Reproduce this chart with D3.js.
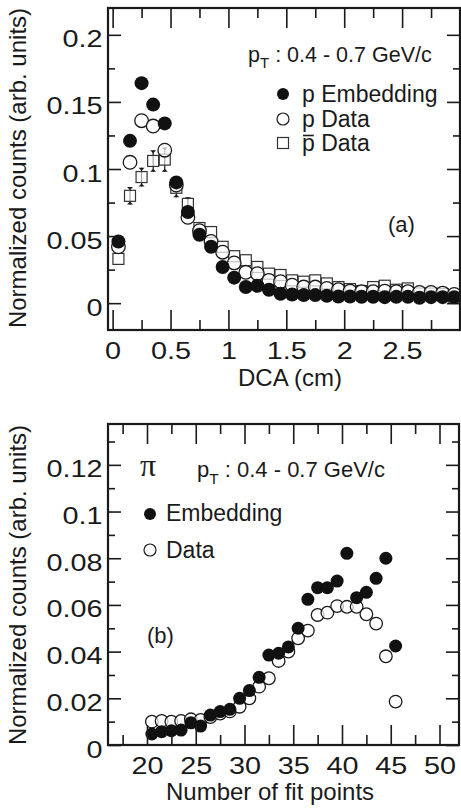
<!DOCTYPE html>
<html><head><meta charset="utf-8">
<script src="https://cdn.jsdelivr.net/npm/d3@7/dist/d3.min.js"></script>
<style>
body{margin:0;background:#fff}
text{font-family:"Liberation Sans",Arial,Helvetica,sans-serif;fill:#1a1a1a}
</style>
</head><body>
<svg id="c" width="461" height="810"></svg>
<script>
// ---------- Panel (a): DCA distributions ----------
const dcaCenters = [0.05,0.15,0.25,0.35,0.45,0.55,0.65,0.75,0.85,0.95,1.05,1.15,1.25,1.35,1.45,1.55,1.65,1.75,1.85,1.95,2.05,2.15,2.25,2.35,2.45,2.55,2.65,2.75,2.85,2.95];
const pEmbedding = [0.046,0.121,0.164,0.148,0.134,0.090,0.068,0.051,0.042,0.027,0.019,0.012,0.013,0.010,0.007,0.0065,0.006,0.006,0.0055,0.005,0.005,0.0048,0.0048,0.0045,0.0047,0.0048,0.004,0.0045,0.0045,0.0045];
const pData = [0.042,0.105,0.136,0.132,0.114,0.088,0.064,0.054,0.046,0.038,0.030,0.023,0.022,0.017,0.016,0.0134,0.012,0.012,0.011,0.010,0.009,0.0085,0.0085,0.009,0.0085,0.0085,0.008,0.008,0.0075,0.0065];
const pbarData = [0.033,0.080,0.094,0.106,0.107,0.086,0.074,0.056,0.053,0.042,0.035,0.032,0.027,0.022,0.021,0.017,0.016,0.017,0.0147,0.012,0.0105,0.009,0.012,0.013,0.010,0.011,0.0072,0.0072,0.0068,0.004];
const pbarErr = [0,0.0065,0.007,0.008,0.009,0.007,0.005,0,0,0,0,0,0,0,0,0,0,0,0,0,0,0,0,0,0,0,0,0,0,0];
const dcaXTicks = [0,0.5,1,1.5,2,2.5];
const dcaXTickLabels = ["0","0.5","1","1.5","2","2.5"];
const dcaYTicks = [0,0.05,0.1,0.15,0.2];
const dcaYTickLabels = ["0","0.05","0.1","0.15","0.2"];

// ---------- Panel (b): number of fit points ----------
const fitPoints = [20.5,21.5,22.5,23.5,24.5,25.5,26.5,27.5,28.5,29.5,30.5,31.5,32.5,33.5,34.5,35.5,36.5,37.5,38.5,39.5,40.5,41.5,42.5,43.5,44.5,45.5];
const piEmbedding = [0.0047,0.0057,0.0061,0.0064,0.0095,0.0081,0.0128,0.0143,0.0153,0.020,0.0233,0.029,0.0385,0.0393,0.042,0.050,0.0624,0.0674,0.0674,0.0702,0.0821,0.0631,0.0654,0.0714,0.080,0.0424];
const piData = [0.010,0.0103,0.010,0.0103,0.011,0.0107,0.012,0.0135,0.0144,0.0164,0.020,0.025,0.0286,0.036,0.040,0.0457,0.049,0.0557,0.0567,0.0595,0.0592,0.0592,0.056,0.052,0.038,0.0186];
const fitXTicks = [20,25,30,35,40,45,50];
const fitXTickLabels = ["20","25","30","35","40","45","50"];
const fitYTicks = [0,0.02,0.04,0.06,0.08,0.1,0.12];
const fitYTickLabels = ["0","0.02","0.04","0.06","0.08","0.1","0.12"];

const svg = d3.select("#c");
const INK = "#1a1a1a";
const FS = 24;
const TICK_STRETCH = 1.2;

function frame(g, x, y, o){
  const [x0,x1] = x.range(), [y1,y0] = y.range();
  const mk = (axis, tx, ty, vals, size, fmt) => {
    const a = g.append("g").attr("transform",`translate(${tx},${ty})`)
      .call(axis.tickValues(vals).tickSize(size).tickPadding(6).tickFormat(fmt||""));
    a.select(".domain").remove();
    a.selectAll("line").attr("stroke",INK).attr("stroke-width",1.6);
    return a;
  };
  // bottom
  const bx = mk(d3.axisBottom(x), 0, y1, o.xMajor, -20, (d,i)=>o.xLabels[i]);
  bx.selectAll("text").attr("font-size",FS).attr("fill",INK).attr("dy","0.95em")
    .attr("transform",`scale(${TICK_STRETCH},1)`);
  mk(d3.axisBottom(x), 0, y1, o.xMinor, -10);
  // top
  mk(d3.axisTop(x), 0, y0, o.xMajor, -20);
  mk(d3.axisTop(x), 0, y0, o.xMinor, -10);
  // left
  const ly = mk(d3.axisLeft(y), x0, 0, o.yMajor, -13, (d,i)=>o.yLabels[i]);
  ly.selectAll("text").attr("font-size",FS).attr("fill",INK).attr("dy","0.5em").attr("x",-4.5)
    .attr("transform",`scale(${TICK_STRETCH},1)`);
  mk(d3.axisLeft(y), x0, 0, o.yMinor, -7);
  // right
  mk(d3.axisRight(y), x1, 0, o.yMajor, -13);
  mk(d3.axisRight(y), x1, 0, o.yMinor, -7);
  g.append("rect").attr("x",x0).attr("y",y0).attr("width",x1-x0).attr("height",y1-y0)
    .attr("fill","none").attr("stroke",INK).attr("stroke-width",2.2);
}

// ================= Panel (a) =================
const xa = d3.scaleLinear().domain([-0.04,3.0]).range([108,460]);
const ya = d3.scaleLinear().domain([-0.02,0.22]).range([330,8]);
const ga = svg.append("g");
svg.append("clipPath").attr("id","ca").append("rect")
  .attr("x",108).attr("y",8).attr("width",352).attr("height",322);
const da = ga.append("g").attr("clip-path","url(#ca)");

// pbar squares with error bars
const sq = 11;
dcaCenters.forEach((c,i)=>{
  const e = pbarErr[i];
  if(e>0){
    const cx = xa(c), cyT = ya(pbarData[i]+e), cyB = ya(pbarData[i]-e);
    da.append("line").attr("x1",cx).attr("x2",cx).attr("y1",cyT).attr("y2",cyB).attr("stroke",INK).attr("stroke-width",1.2);
    da.append("path").attr("d",`M${cx-3},${cyT}L${cx+3},${cyT}L${cx},${cyT+3}Z`).attr("fill",INK);
    da.append("path").attr("d",`M${cx-3},${cyB}L${cx+3},${cyB}L${cx},${cyB-3}Z`).attr("fill",INK);
  }
});
da.selectAll("rect.pb").data(dcaCenters).join("rect")
  .attr("x",d=>xa(d)-sq/2).attr("y",(d,i)=>ya(pbarData[i])-sq/2)
  .attr("width",sq).attr("height",sq)
  .attr("fill","white").attr("fill-opacity",0.6).attr("stroke","#333").attr("stroke-width",1.2);
da.selectAll("circle.pd").data(dcaCenters).join("circle")
  .attr("cx",d=>xa(d)).attr("cy",(d,i)=>ya(pData[i])).attr("r",6.8)
  .attr("fill","white").attr("fill-opacity",0.7).attr("stroke",INK).attr("stroke-width",1.3);
da.selectAll("circle.pe").data(dcaCenters).join("circle")
  .attr("cx",d=>xa(d)).attr("cy",(d,i)=>ya(pEmbedding[i])).attr("r",7)
  .attr("fill","#111");

frame(ga, xa, ya, {
  xMajor: dcaXTicks, xLabels: dcaXTickLabels,
  xMinor: [0.25,0.75,1.25,1.75,2.25,2.75],
  yMajor: dcaYTicks, yLabels: dcaYTickLabels,
  yMinor: [0.025,0.075,0.125,0.175]
});

// pT text
function ptText(g, x, y, fs){
  const t = g.append("text").attr("x",x).attr("y",y).attr("font-size",fs);
  t.append("tspan").text("p");
  t.append("tspan").attr("font-size",fs*0.7).attr("dy",fs*0.3).text("T");
  t.append("tspan").attr("dy",-fs*0.3).text(" : 0.4 - 0.7 GeV/c");
}
ptText(ga, 248, 62, 21.5);
// legend (a)
const LF = 23;
ga.append("circle").attr("cx",283).attr("cy",94).attr("r",6).attr("fill","#111");
ga.append("text").attr("x",302).attr("y",102).attr("font-size",LF).text("p Embedding");
ga.append("circle").attr("cx",283).attr("cy",119).attr("r",6).attr("fill","white").attr("stroke",INK).attr("stroke-width",1.2);
ga.append("text").attr("x",302).attr("y",127).attr("font-size",LF).text("p Data");
ga.append("rect").attr("x",283-5.5).attr("y",143-5.5).attr("width",11).attr("height",11).attr("fill","white").attr("stroke","#333").attr("stroke-width",1.2);
const pbT = ga.append("text").attr("x",302).attr("y",151).attr("font-size",LF);
pbT.append("tspan").text("p");
pbT.append("tspan").text(" Data");
{
  const w = LF*0.556;
  ga.append("line").attr("x1",303).attr("x2",302+w-1).attr("y1",135.5).attr("y2",135.5).attr("stroke",INK).attr("stroke-width",1.6);
}
ga.append("text").attr("x",388).attr("y",232).attr("font-size",22).text("(a)");

// axis titles (a)
svg.append("text").attr("x",290).attr("y",386).attr("text-anchor","middle").attr("font-size",FS).text("DCA (cm)");
svg.append("text").attr("transform","translate(26,168) rotate(-90)").attr("text-anchor","middle").attr("font-size",FS).text("Normalized counts (arb. units)");

// ================= Panel (b) =================
const xb = d3.scaleLinear().domain([16,52]).range([108,459]);
const yb = d3.scaleLinear().domain([0,0.1375]).range([745,424]);
const gb = svg.append("g");
svg.append("clipPath").attr("id","cb").append("rect")
  .attr("x",108).attr("y",424).attr("width",351).attr("height",321);
const db = gb.append("g").attr("clip-path","url(#cb)");
db.selectAll("circle.od").data(fitPoints).join("circle")
  .attr("cx",d=>xb(d)).attr("cy",(d,i)=>yb(piData[i])).attr("r",6.3)
  .attr("fill","white").attr("fill-opacity",0.7).attr("stroke",INK).attr("stroke-width",1.3);
db.selectAll("circle.fe").data(fitPoints).join("circle")
  .attr("cx",d=>xb(d)).attr("cy",(d,i)=>yb(piEmbedding[i])).attr("r",6.5)
  .attr("fill","#111");

frame(gb, xb, yb, {
  xMajor: fitXTicks, xLabels: fitXTickLabels,
  xMinor: [17.5,22.5,27.5,32.5,37.5,42.5,47.5],
  yMajor: fitYTicks, yLabels: fitYTickLabels,
  yMinor: [0.01,0.03,0.05,0.07,0.09,0.11,0.13]
});

gb.append("text").attr("x",140).attr("y",476).attr("font-size",32)
  .style("font-family","'Liberation Serif','DejaVu Serif',serif").text("π");
ptText(gb, 197, 477, 22);
gb.append("circle").attr("cx",150).attr("cy",514).attr("r",6).attr("fill","#111");
gb.append("text").attr("x",166).attr("y",521).attr("font-size",LF).text("Embedding");
gb.append("circle").attr("cx",150).attr("cy",550).attr("r",6).attr("fill","white").attr("stroke",INK).attr("stroke-width",1.2);
gb.append("text").attr("x",166).attr("y",558).attr("font-size",LF).text("Data");
gb.append("text").attr("x",147).attr("y",643).attr("font-size",22).text("(b)");

svg.append("text").attr("x",270).attr("y",800).attr("text-anchor","middle").attr("font-size",FS).text("Number of fit points");
svg.append("text").attr("transform","translate(26,585) rotate(-90)").attr("text-anchor","middle").attr("font-size",FS).text("Normalized counts (arb. units)");
</script>
</body></html>
